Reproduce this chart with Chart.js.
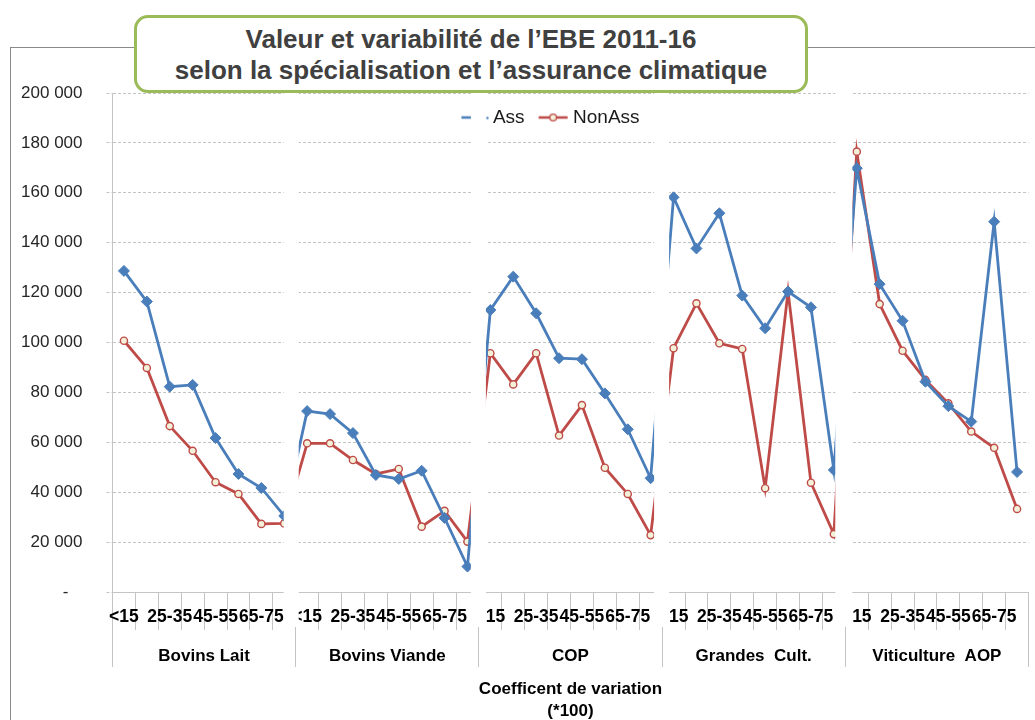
<!DOCTYPE html>
<html lang="fr">
<head>
<meta charset="utf-8">
<title>Valeur et variabilité de l’EBE 2011-16</title>
<script src="https://cdn.jsdelivr.net/npm/chart.js@4/dist/chart.umd.min.js"></script>
<style>
  body { margin: 0; background: #fff; }
  #wrap { position: relative; width: 1035px; height: 720px; overflow: hidden; }
  #cadre {
    position: absolute; left: 10px; top: 47px; width: 1040px; height: 700px;
    border-left: 1px solid #8a8a8a; border-top: 1px solid #8a8a8a;
  }
  #ebeChart { position: absolute; left: 0; top: 0; }
  #titre {
    position: absolute; left: 134px; top: 15px; width: 674px; height: 78px;
    box-sizing: border-box; border: 3px solid #9BBB59; border-radius: 14px;
    background: #fff; color: #404040; text-align: center;
    font: bold 26px 'Liberation Sans', Arial, sans-serif; line-height: 31px; padding-top: 6px;
  }
</style>
</head>
<body>
<div id="wrap">
  <div id="cadre"></div>
  <canvas id="ebeChart" width="1035" height="720"></canvas>
  <div id="titre">Valeur et variabilité de l’EBE 2011-16<br>selon la spécialisation et l’assurance climatique</div>
</div>
<script>
document.addEventListener('DOMContentLoaded', () => {

    // --- classes de coefficient de variation (*100) ---
    const CLASSES = ['<15', '15-25', '25-35', '35-45', '45-55', '55-65', '65-75', '>75'];

    // 1. EBE moyen par spécialisation (assurés / non assurés)
    const groupes = [
        { nom: 'Bovins Lait',
          ass:    [128700, 116400, 82300, 83000, 61700, 47300, 41700, 30500],
          nonAss: [100700, 89800, 66500, 56600, 44000, 39300, 27300, 27500] },
        { nom: 'Bovins Viande',
          ass:    [72500, 71300, 63700, 46900, 45300, 48600, 29700, 10200],
          nonAss: [59600, 59600, 52900, 47300, 49300, 26200, 32500, 20200] },
        { nom: 'COP',
          ass:    [113000, 126400, 111700, 93700, 93300, 79600, 65200, 45600],
          nonAss: [95700, 83200, 95700, 62700, 74900, 49800, 39300, 22800] },
        { nom: 'Grandes  Cult.',
          ass:    [158200, 137700, 151800, 118800, 105700, 120400, 114100, 48900],
          nonAss: [97700, 115700, 99700, 97400, 41600, 120400, 43800, 23200] },
        { nom: 'Viticulture  AOP',
          ass:    [169800, 123400, 108700, 84300, 74500, 68300, 148400, 48100],
          nonAss: [176500, 115400, 96700, 85000, 75600, 64300, 57800, 33300] }
    ];

    const labels = [];
    const dataAss = [];
    const dataNonAss = [];
    groupes.forEach(g => {
        CLASSES.forEach((c, i) => {
            labels.push(c);
            dataAss.push(g.ass[i]);
            dataNonAss.push(g.nonAss[i]);
        });
    });

    // 2. couleurs (style Excel)
    const BLEU = '#4A7EBB';
    const ROUGE = '#BE4B48';
    const CREME = '#F3F1DA';
    const GRIS = '#c4c4c4';

    // 3. vignettes de légende (trait + marqueur)
    function vignette(dessin) {
        const c = document.createElement('canvas');
        c.width = 36; c.height = 14;
        dessin(c.getContext('2d'));
        return c;
    }
    const vignetteAss = vignette(g => {
        g.strokeStyle = BLEU; g.lineWidth = 2.5;
        g.beginPath(); g.moveTo(8, 7); g.lineTo(19, 7); g.stroke();
        g.fillStyle = BLEU;
        g.beginPath(); g.arc(34, 7.5, 1.2, 0, Math.PI * 2); g.fill();
    });
    const vignetteNonAss = vignette(g => {
        g.strokeStyle = ROUGE; g.lineWidth = 2.5;
        g.beginPath(); g.moveTo(5, 7); g.lineTo(34, 7); g.stroke();
        g.fillStyle = CREME; g.lineWidth = 1.3;
        g.beginPath(); g.arc(19.5, 7, 3.3, 0, Math.PI * 2); g.fill(); g.stroke();
    });

    // 4. panneaux séparés par des bandes blanches
    const ECARTS = [[-12, 3], [-8, 7], [-8, 7], [-10, 7]];
    const panneaux = {
        id: 'panneaux',
        beforeLayout(chart) {
            // légende horizontale posée dans la zone de tracé
            if (chart.legend) chart.legend.isHorizontal = () => true;
        },
        afterLayout(chart) {
            const { legend, chartArea } = chart;
            if (!legend) return;
            legend.left = chartArea.left - 21;
            legend.right = chartArea.right - 21;
            legend.top = chartArea.top;
        },
        afterDraw(chart) {
            const { ctx, scales: { x }, chartArea } = chart;
            ctx.save();
            ctx.fillStyle = '#fff';
            for (let g = 1; g < groupes.length; g++) {
                const idx = g * CLASSES.length;
                const frontiere = (x.getPixelForValue(idx - 1) + x.getPixelForValue(idx)) / 2;
                const [a, b] = ECARTS[g - 1];
                ctx.fillRect(frontiere + a, chartArea.top - 8, b - a, x.top + 35 - (chartArea.top - 8));
            }
            ctx.restore();
        }
    };

    const espaceMilliers = v => String(v).replace(/\B(?=(\d{3})+(?!\d))/g, ' ');

    // 5. graphique
    new Chart(document.getElementById('ebeChart'), {
        type: 'line',
        data: {
            labels: labels,
            datasets: [
                {
                    label: 'Ass',
                    data: dataAss,
                    borderColor: BLEU,
                    backgroundColor: BLEU,
                    borderWidth: 2.8,
                    pointStyle: 'rectRot',
                    pointRadius: 5.5,
                    pointBorderWidth: 1,
                    pointBackgroundColor: BLEU,
                    pointBorderColor: BLEU,
                    tension: 0
                },
                {
                    label: 'NonAss',
                    data: dataNonAss,
                    borderColor: ROUGE,
                    backgroundColor: ROUGE,
                    borderWidth: 2.8,
                    pointStyle: 'circle',
                    pointRadius: 3.6,
                    pointBorderWidth: 1.4,
                    pointBackgroundColor: CREME,
                    pointBorderColor: ROUGE,
                    tension: 0
                }
            ]
        },
        options: {
            responsive: false,
            devicePixelRatio: 1,
            animation: false,
            layout: { padding: { top: 93, right: 5.5, left: 0, bottom: 0 } },
            plugins: {
                title: { display: false },
                tooltip: { enabled: false },
                legend: {
                    position: 'chartArea',
                    align: 'center',
                    labels: {
                        usePointStyle: true,
                        pointStyleWidth: 24,
                        padding: 15,
                        color: '#1a1a1a',
                        font: { size: 19 },
                        generateLabels(chart) {
                            const items = Chart.defaults.plugins.legend.labels.generateLabels(chart);
                            items[0].pointStyle = vignetteAss;
                            items[1].pointStyle = vignetteNonAss;
                            return items;
                        }
                    }
                }
            },
            scales: {
                y: {
                    min: 0,
                    max: 200000,
                    afterFit(scale) { scale.width = 112.5; },
                    ticks: {
                        stepSize: 20000,
                        padding: 24,
                        color: '#262626',
                        font: { size: 17 },
                        callback: v => v === 0 ? '-   ' : espaceMilliers(v)
                    },
                    grid: {
                        color: GRIS,
                        tickLength: 6,
                        tickBorderDash: [3, 2]
                    },
                    border: { color: GRIS, dash: [3, 2] }
                },
                x: {
                    type: 'category',
                    offset: true,
                    weight: 0,
                    afterFit(scale) { scale.height = 38; },
                    grid: {
                        offset: true,
                        drawOnChartArea: false,
                        drawTicks: true,
                        tickLength: 38,
                        color: GRIS
                    },
                    border: { color: GRIS },
                    ticks: {
                        autoSkip: false,
                        maxRotation: 0,
                        minRotation: 0,
                        padding: -23,
                        color: '#000',
                        font: { size: 17.5, weight: 'bold' },
                        callback(v, i) { return i % 2 === 0 ? this.getLabelForValue(v) : ''; }
                    }
                },
                x2: {
                    type: 'category',
                    position: 'bottom',
                    labels: groupes.map(g => g.nom),
                    offset: true,
                    weight: 1,
                    afterFit(scale) { scale.height = 90; },
                    grid: {
                        offset: true,
                        drawOnChartArea: false,
                        drawTicks: true,
                        tickLength: 37,
                        color: GRIS
                    },
                    border: { display: false },
                    ticks: {
                        autoSkip: false,
                        maxRotation: 0,
                        padding: -21,
                        color: '#000',
                        font: { size: 17, weight: 'bold' }
                    },
                    title: {
                        display: true,
                        text: ['Coefficent de variation', '(*100)'],
                        color: '#000',
                        font: { size: 17, weight: 'bold', lineHeight: 1.3 },
                        padding: { top: 0, bottom: -2 }
                    }
                }
            }
        },
        plugins: [panneaux]
    });
});
</script>
</body>
</html>
